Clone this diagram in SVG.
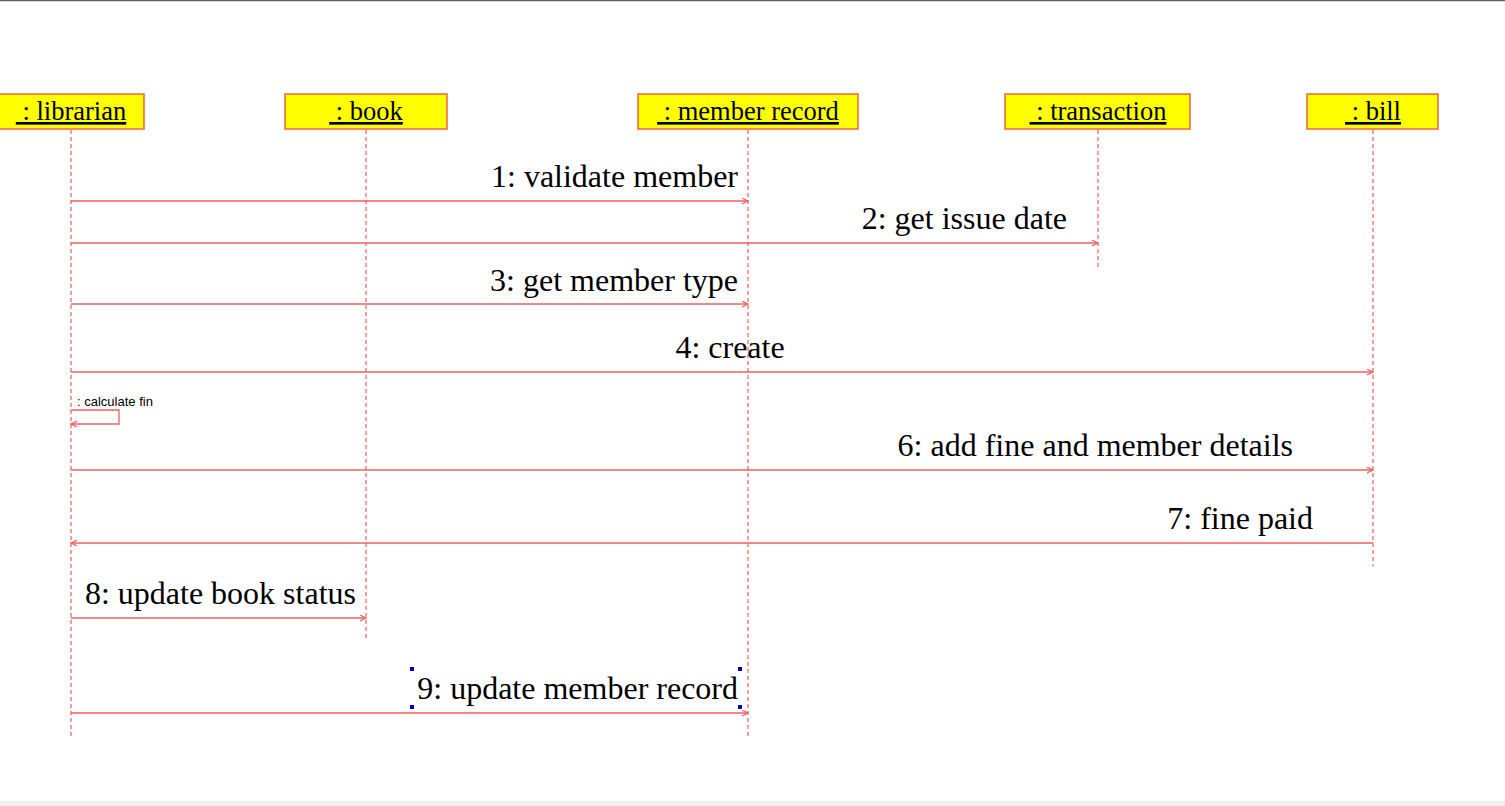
<svg xmlns="http://www.w3.org/2000/svg" width="1505" height="806" viewBox="0 0 1505 806">
<style>
.box{fill:#ffff00;stroke:#f0643c;stroke-width:1.5}
.lbl{font-family:"Liberation Serif",serif;font-size:26.5px;text-anchor:middle;text-decoration:underline;fill:#000}
.life{stroke:#f06060;stroke-width:1.2;stroke-dasharray:4,3;fill:none}
.msg{stroke:#f06060;stroke-width:1.3;fill:none}
.mt{font-family:"Liberation Serif",serif;font-size:32px;fill:#000}
.small{font-family:"Liberation Sans",sans-serif;font-size:13px;fill:#000}
.h{fill:#0000c0}
</style>
<defs>
<marker id="arr" markerWidth="8" markerHeight="8" refX="6" refY="3" orient="auto" markerUnits="userSpaceOnUse">
<path d="M0,0 L6,3 L0,6" fill="none" stroke="#f06060" stroke-width="1.2"/>
</marker>
</defs>
<rect x="0" y="0" width="1505" height="806" fill="#fff"/>
<line x1="0" y1="0.5" x2="1505" y2="0.5" stroke="#606060" stroke-width="1.5"/>
<rect x="0" y="801" width="1505" height="5" fill="#f0f0f0"/>

<g id="librarian">
<line class="life" x1="71" y1="130" x2="71" y2="738"/>
<rect class="box" x="-2" y="94" width="146" height="35"/>
<text class="lbl" x="71" y="120" xml:space="preserve"> : librarian</text>
</g>
<g id="book">
<line class="life" x1="366" y1="130" x2="366" y2="641"/>
<rect class="box" x="285" y="94" width="162" height="35"/>
<text class="lbl" x="366" y="120" xml:space="preserve"> : book</text>
</g>
<g id="member_record">
<line class="life" x1="748" y1="130" x2="748" y2="738"/>
<rect class="box" x="638" y="94" width="220" height="35"/>
<text class="lbl" x="748" y="120" xml:space="preserve"> : member record</text>
</g>
<g id="transaction">
<line class="life" x1="1098" y1="130" x2="1098" y2="268"/>
<rect class="box" x="1005" y="94" width="185" height="35"/>
<text class="lbl" x="1098" y="120" xml:space="preserve"> : transaction</text>
</g>
<g id="bill">
<line class="life" x1="1373" y1="130" x2="1373" y2="566"/>
<rect class="box" x="1307" y="94" width="131" height="35"/>
<text class="lbl" x="1373" y="120" xml:space="preserve"> : bill</text>
</g>

<g id="connectors">
<line class="msg" x1="71" y1="201" x2="748" y2="201" marker-end="url(#arr)"/>
<text class="mt" x="738" y="187" text-anchor="end">1: validate member</text>
<line class="msg" x1="71" y1="243" x2="1098" y2="243" marker-end="url(#arr)"/>
<text class="mt" x="1067" y="229" text-anchor="end">2: get issue date</text>
<line class="msg" x1="71" y1="304" x2="748" y2="304" marker-end="url(#arr)"/>
<text class="mt" x="738" y="291" text-anchor="end">3: get member type</text>
<line class="msg" x1="71" y1="372" x2="1373" y2="372" marker-end="url(#arr)"/>
<text class="mt" x="730" y="358" text-anchor="middle">4: create</text>
<path class="msg" d="M71,410 H119 V424 H71" marker-end="url(#arr)"/>
<text class="small" x="77" y="406">: calculate fin</text>
<line class="msg" x1="71" y1="470" x2="1373" y2="470" marker-end="url(#arr)"/>
<text class="mt" x="1293" y="456" text-anchor="end">6: add fine and member details</text>
<line class="msg" x1="1373" y1="543" x2="71" y2="543" marker-end="url(#arr)"/>
<text class="mt" x="1313" y="529" text-anchor="end">7: fine paid</text>
<line class="msg" x1="71" y1="618" x2="366" y2="618" marker-end="url(#arr)"/>
<text class="mt" x="356" y="604" text-anchor="end">8: update book status</text>
<line class="msg" x1="71" y1="713" x2="748" y2="713" marker-end="url(#arr)"/>
<text class="mt" x="738" y="699" text-anchor="end">9: update member record</text>
<rect class="h" x="410" y="667" width="4" height="4"/>
<rect class="h" x="738" y="667" width="4" height="4"/>
<rect class="h" x="410" y="705" width="4" height="4"/>
<rect class="h" x="738" y="705" width="4" height="4"/>
</g>
</svg>
